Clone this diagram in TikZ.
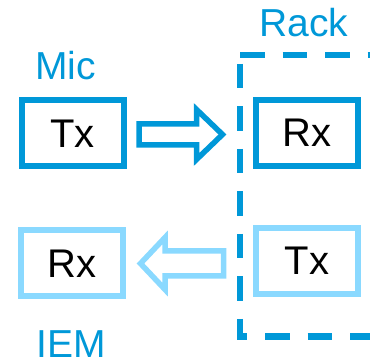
\documentclass[tikz,border=0pt]{standalone}
\usepackage{fontspec}
\setmainfont{Liberation Sans}
\definecolor{darkblue}{RGB}{0,152,216}
\definecolor{lightblue}{RGB}{138,217,255}
\tikzset{
  box/.style={draw, line width=6pt, minimum width=102pt, minimum height=66pt, inner sep=0pt, outer sep=0pt, font=\fontsize{40}{40}\selectfont, text=black},
  darkbox/.style={box, draw=darkblue},
  lightbox/.style={box, draw=lightblue},
  lbl/.style={anchor=base west, inner sep=0pt, text=darkblue, font=\fontsize{39}{39}\selectfont},
  blockarrow/.style={line width=5.5pt, line join=miter, fill=white},
  rackline/.style={draw=darkblue, line width=6.5pt, dash pattern=on 24.5pt off 18pt}
}
\begin{document}
\begin{tikzpicture}[x=1pt, y=-1pt]
\useasboundingbox (0,0) rectangle (370,363);
\clip (0,0) rectangle (370,363);
% rack dashed frame
\coordinate (rtl) at (240,55);
\coordinate (rbl) at (240,336.5);
\coordinate (rtr) at (380,55);
\coordinate (rbr) at (380,336.5);
\draw[rackline, dash phase=0pt] (rtl) -- (rtr);
\draw[rackline, dash phase=33.5pt] (rtl) -- (rbl) -- (rbr);
% boxes
\node[darkbox] (mictx) at (72.5,133.5) {Tx};
\node[darkbox] (rackrx) at (307,133) {Rx};
\node[lightbox] (iemrx) at (72,263.5) {Rx};
\node[lightbox] (racktx) at (307,261) {Tx};
% labels
\node[lbl] (mic) at (35,80) {Mic};
\node[lbl] (rack) at (259,37) {Rack};
\node[lbl] (iem) at (36,358) {IEM};
% block arrows
\draw[blockarrow, draw=darkblue] (139,124) -- (196.5,124) -- (196.5,109.5) -- (222.5,134.5) -- (196.5,159.5) -- (196.5,145) -- (139,145) -- cycle;
\draw[blockarrow, draw=lightblue] (223.5,251) -- (165,251) -- (165,237.5) -- (140.5,263.5) -- (165,289.5) -- (165,276) -- (223.5,276) -- cycle;
\end{tikzpicture}
\end{document}
